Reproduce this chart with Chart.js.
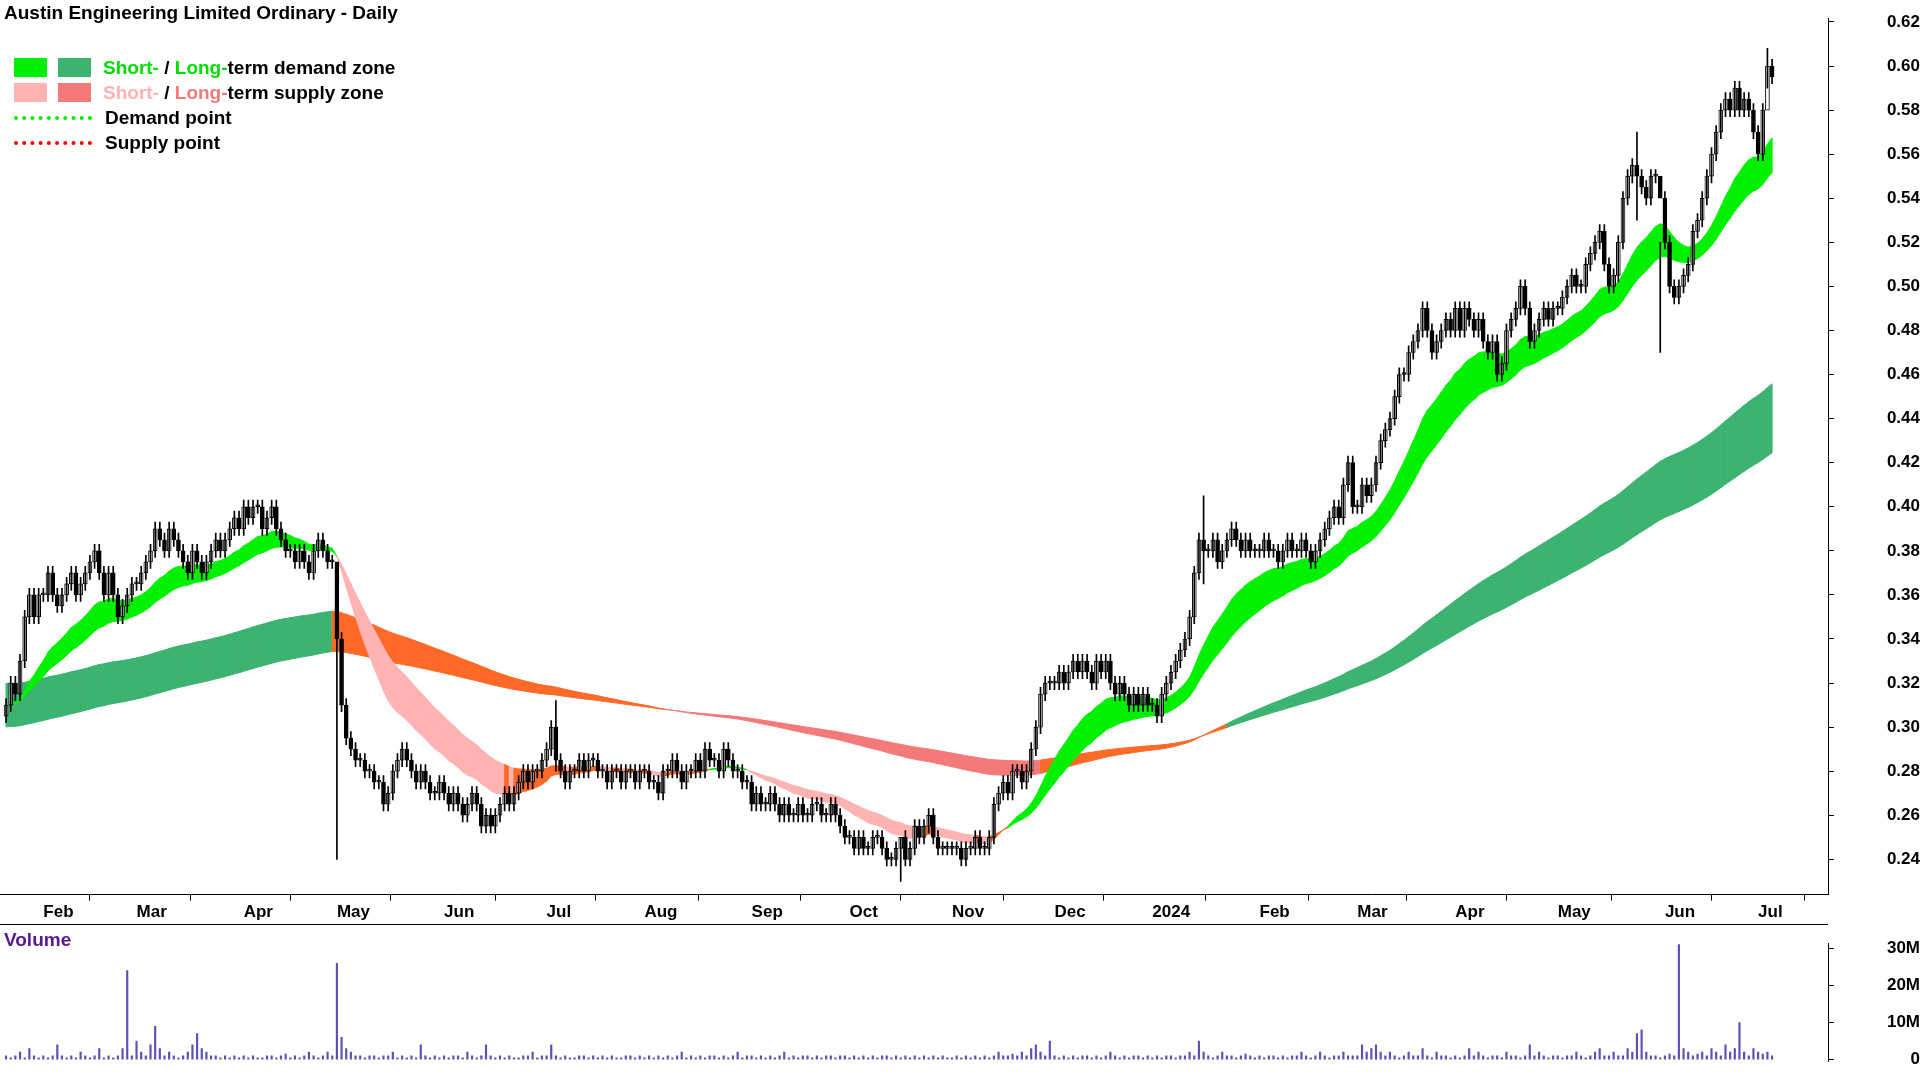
<!DOCTYPE html>
<html>
<head>
<meta charset="utf-8">
<script src="https://cdn.jsdelivr.net/npm/chart.js@4.4.1/dist/chart.umd.min.js"></script>
<style>
  body { margin: 0; width: 1920px; height: 1080px; background: #fff; overflow: hidden; font-family: "Liberation Sans", Arial, sans-serif; }
  #priceWrap { position: absolute; left: 0; top: 0; width: 1920px; height: 925px; }
  #volWrap { position: absolute; left: 0; top: 925px; width: 1920px; height: 155px; }
  #sep { position: absolute; left: 0; top: 924px; width: 1828px; height: 1px; background: #000; }
  .title { position: absolute; left: 4px; top: 2px; font-weight: bold; font-size: 19px; }
  .legend { position: absolute; left: 14px; top: 55px; font-weight: bold; font-size: 19px; line-height: 25px; }
  .row { display: flex; align-items: center; height: 25px; }
  .sw { width: 33px; height: 19px; margin-right: 11px; }
  .dot { width: 78px; height: 0; border-top: 4px dotted; margin-right: 13px; }
  .vol { position: absolute; left: 4px; top: 929px; font-weight: bold; font-size: 19px; color: #5a1a8c; }
</style>
</head>
<body>
<div id="priceWrap"><canvas id="priceChart" width="1920" height="925"></canvas></div>
<div id="volWrap"><canvas id="volChart" width="1920" height="155"></canvas></div>
<div id="sep"></div>
<div class="title">Austin Engineering Limited Ordinary - Daily</div>
<div class="legend">
  <div class="row"><div class="sw" style="background:#00ee00"></div><div class="sw" style="background:#3cb371;margin-right:12px"></div><span style="color:#00dd00">Short-</span>&nbsp;/&nbsp;<span style="color:#00dd00">Long-</span>term demand zone</div>
  <div class="row"><div class="sw" style="background:#ffb3b3"></div><div class="sw" style="background:#f47a7a;margin-right:12px"></div><span style="color:#ffb3b3">Short-</span>&nbsp;/&nbsp;<span style="color:#f47a7a">Long-</span>term supply zone</div>
  <div class="row"><div class="dot" style="border-color:#00ee00"></div>Demand point</div>
  <div class="row"><div class="dot" style="border-color:#ff0000"></div>Supply point</div>
</div>
<div class="vol">Volume</div>
<script>
// daily closes in cents, one line per month (Jan 2023 .. Jul 2024)
const closes = [
  31,32,31.5,33,35,36,35,36,
  36,37,36,35.5,36,36.5,37,36,36.5,37,37.5,38,37,36,37,36,35,35.5,36,36.5,
  36.5,37,37.5,38,39,38.5,38,39,38.5,38,37.5,37,38,37.5,37,37.5,38,38.5,38,38.5,39,39.5,39,
  40,39.5,40,40,39,39.5,40,39,38.5,38,38,37.5,38,37.5,37,38,38.5,38,37.5,37.5,
  34,31,29.5,29,28.5,28.5,28,28,27.5,27.5,26.5,27,28,28.5,29,28.5,28,27.5,28,27.5,27,27,27.5,
  27,26.5,27,26.5,26,26.5,27,26.5,25.5,26,25.5,26,26.5,27,26.5,27,27.5,28,27.5,28,28,28.5,
  29,30,28.5,28,27.5,28,28,28.5,28,28.5,28.5,28,28,27.5,28,28,27.5,28,28,27.5,28,
  28,27.5,27.5,27,28,28,28.5,28,27.5,28,28,28.5,28,29,28.5,28.5,28,29,28.5,28,28,27.5,27.5,
  26.5,27,26.5,26.5,27,26.5,26,26.5,26,26,26.5,26,26,26.5,26.5,26,26,26.5,26,25.5,25,
  25,24.5,25,24.5,24.5,25,25,24.5,24,24,24.5,25,24,24.5,25.5,25,25.5,26,25,24.5,24.5,24.5,
  24.5,24.5,24,24.5,24.5,25,24.5,24.5,25,26.5,27,27.5,27,28,28,27.5,28,29,30,31.5,32,32,
  32,32.5,32,32.5,33,32.5,33,32.5,32,33,32.5,33,32,31.5,32,31.5,31,31.5,31,31.5,31,
  31,30.5,31.5,32,32.5,33,33.5,34,35,37,38.5,38,38,38.5,37.5,38,38.5,39,38.5,38,38.5,38,38,
  38,38.5,38,38,37.5,38,38.5,38,38,38.5,38,37.5,38,38.5,39,39.5,40,39.5,41,42,40,
  40,41,40.5,41,42,43,43.5,44,45,46,46,47,47.5,48,49,48,47,47.5,48,48.5,48,
  49,48,49,48.5,48,48.5,47.5,47,47.5,46,46.5,48,48.5,49,50,49,47.5,48,48.5,49,48.5,49,
  49,49.5,50,50.5,50,50,51,51.5,52,52.5,51,50,50.5,52,54,55,55.5,55,54.5,54,55,55,54,
  52,50,49.5,50,50.5,51,52.5,53,54,55,56,57,58,58.5,58,59,58,58.5,58,57,
  56,58,60,59.5
];
// daily volume in millions
const volumes = [
  1,0.5,1,2,0.5,3,1,0.5,
  1,0.5,1,4,1,0.5,1,0.5,2,1,0.5,1,3,0.5,1,0.5,1,3,24,1,
  5,2,1,4,9,3,1,2,1,0.5,1,2,4,7,3,2,1,1,0.5,1,0.5,1,0.5,
  1,0.5,1,0.5,0.5,1,1,0.5,1,1.5,0.5,1,0.5,1,2,1,0.5,1,2,1,
  26,6,3,2,1,1,0.5,1,1,0.5,1,1,2,0.5,1,0.5,1,0.5,4,1,0.5,1,0.5,
  1,0.5,1,1,0.5,2,1,0.5,1,4,1,0.5,1,0.5,1,0.5,0.5,1,1,2,0.5,1,
  1,4,1,0.5,1,0.5,0.5,1,1,0.5,1,0.5,1,0.5,1,0.5,0.5,1,1,0.5,1,
  0.5,1,0.5,1,0.5,1,0.5,1,2,0.5,1,0.5,1,0.5,1,1,0.5,1,0.5,1,2,0.5,1,
  1,0.5,1,0.5,1,0.5,1,2,0.5,1,0.5,1,1,0.5,1,0.5,1,1,0.5,1,1,
  0.5,1,0.5,1,0.5,1,0.5,1,1,0.5,1,0.5,1,0.5,1,0.5,1,0.5,1,0.5,1,0.5,
  0.5,1,0.5,1,0.5,1,0.5,1,0.5,1,2,1,1,1.5,1,2,1,3,4,2,1,5,
  1,0.5,1,0.5,1,0.5,1,1,0.5,1,0.5,1,2,1,0.5,1,0.5,1,1,0.5,1,
  0.5,1,0.5,1,1,0.5,1,1,2,1,5,2,1,0.5,1,2,1,1,0.5,1,1.5,1,0.5,
  1,0.5,1,1,0.5,1,0.5,1,1,2,1,0.5,1,2,1,0.5,1,1,2,1,1,
  1,4,2,3,4,2,1,2,1,0.5,1,2,1,1,3,1,0.5,2,1,1,0.5,
  1,0.5,1,3,1,2,1,0.5,1,1,0.5,2,1,1,0.5,1,4,1,2,1,0.5,1,
  1,0.5,1,1,2,1,0.5,1,2,3,1,1,2,1,1,3,2,7,8,2,1,1,0.5,
  1,1.5,1,31,3,2,1,1.5,2,1,3,2,1,4,2,3,10,2,1,3,
  2,1.5,2,1
];
// a few long wicks seen on the chart: index -> [low, high] in cents
const wickSpikes = { 71: [24, 35], 118: [28, 31.2], 192: [23, 25], 257: [36.5, 40.5], 350: [53, 57], 355: [47, 52], 378: [59, 60.8] };
const firstDay = '2023-01-20';
const monthNames = ['Jan','Feb','Mar','Apr','May','Jun','Jul','Aug','Sep','Oct','Nov','Dec'];
const priceTicks = [0.24,0.26,0.28,0.30,0.32,0.34,0.36,0.38,0.40,0.42,0.44,0.46,0.48,0.50,0.52,0.54,0.56,0.58,0.60,0.62];
const volTicks = [0, 10, 20, 30];
// index ranges where the long-term zone is a supply zone, and where it is drawn orange
const longSupplySpans = [[70, 261]];
const orangeSpans = [[70, 140], [222, 261]];

// trading days
const dates = [];
let d = new Date(firstDay + 'T12:00:00');
while (dates.length < closes.length) {
  if (d.getDay() !== 0 && d.getDay() !== 6) dates.push(new Date(d));
  d.setDate(d.getDate() + 1);
}
const monthStarts = [];
dates.forEach((dt, i) => {
  if (i > 0 && dt.getMonth() !== dates[i - 1].getMonth()) monthStarts.push(i);
});

const c = closes.map(v => v / 100);
const opens = c.map((v, i) => i === 0 ? 0.305 : c[i - 1]);
const candles = c.map((v, i) => {
  const top = Math.max(v, opens[i]), bot = Math.min(v, opens[i]);
  let lo = bot - 0.003, hi = top + 0.003;
  if (wickSpikes[i]) { lo = wickSpikes[i][0] / 100; hi = wickSpikes[i][1] / 100; }
  return { o: opens[i], c: v, lo, hi };
});

function ema(n, seed) {
  const k = 2 / (n + 1), out = [];
  let e = seed;
  c.forEach(v => { e = e + k * (v - e); out.push(e); });
  return out;
}
const sFast = ema(20, 0.31), sSlow = ema(35, 0.31);
const lFast = ema(160, 0.32), lSlow = ema(230, 0.30);
const inSpan = (spans, i) => spans.some(s => i >= s[0] && i <= s[1]);

const bandPlugin = {
  id: 'bands',
  beforeDatasetsDraw(chart) {
    const { ctx, scales: { x, y }, chartArea } = chart;
    ctx.save();
    ctx.beginPath();
    ctx.rect(chartArea.left, chartArea.top, chartArea.width, chartArea.height);
    ctx.clip();
    function band(a, b, colorOf) {
      for (let i = 0; i < a.length - 1; i++) {
        const col = colorOf(i);
        ctx.fillStyle = col; ctx.strokeStyle = col; ctx.lineWidth = 1;
        ctx.beginPath();
        ctx.moveTo(x.getPixelForValue(i), y.getPixelForValue(a[i]));
        ctx.lineTo(x.getPixelForValue(i + 1), y.getPixelForValue(a[i + 1]));
        ctx.lineTo(x.getPixelForValue(i + 1), y.getPixelForValue(b[i + 1]));
        ctx.lineTo(x.getPixelForValue(i), y.getPixelForValue(b[i]));
        ctx.closePath(); ctx.fill(); ctx.stroke();
      }
    }
    band(lFast, lSlow, i => {
      if (!inSpan(longSupplySpans, i)) return '#3cb371';
      return inSpan(orangeSpans, i) ? '#ff6a28' : '#f47a7a';
    });
    band(sFast, sSlow, i => {
      if (sFast[i] >= sSlow[i]) return '#00f000';
      return c[i] > sFast[i] ? '#ff6a28' : '#ffb3b3';
    });
    ctx.restore();
  }
};

const xMin = -1.3, xMax = 391;
const axisFont = { family: '"Liberation Sans", Arial', size: 17, weight: 'bold' };

new Chart(document.getElementById('priceChart').getContext('2d'), {
  type: 'bar',
  data: {
    datasets: [
      { data: candles.map((k, i) => ({ x: i, y: [k.lo, k.hi] })), backgroundColor: '#000', barThickness: 1, grouped: false },
      { data: candles.map((k, i) => ({ x: i, y: [k.o, k.c] })),
        backgroundColor: candles.map(k => k.c >= k.o ? '#fff' : '#000'),
        borderColor: '#000', borderWidth: 1, borderSkipped: false, barThickness: 4, minBarLength: 2, grouped: false }
    ]
  },
  plugins: [bandPlugin],
  options: {
    animation: false, responsive: false, maintainAspectRatio: false,
    layout: { padding: 0 },
    plugins: { legend: { display: false }, tooltip: { enabled: false } },
    scales: {
      x: {
        type: 'linear', min: xMin, max: xMax, offset: false,
        afterBuildTicks: s => { s.ticks = monthStarts.map(v => ({ value: v })); },
        ticks: {
          autoSkip: false, maxRotation: 0, align: 'start', padding: 2, color: '#000', font: axisFont,
          callback: v => { const dt = dates[v]; return dt.getMonth() === 0 ? String(dt.getFullYear()) : monthNames[dt.getMonth()]; }
        },
        grid: { drawOnChartArea: false, tickLength: 6, color: '#000' },
        border: { color: '#000' }
      },
      y: {
        position: 'right', min: 0.224, max: 0.6217,
        afterBuildTicks: s => { s.ticks = priceTicks.map(v => ({ value: v })); },
        afterFit: s => { s.width = 92; },
        ticks: { color: '#000', font: axisFont, padding: 8, crossAlign: 'far', callback: v => v.toFixed(2) },
        grid: { drawOnChartArea: false, tickLength: 6, color: '#000' },
        border: { color: '#000' }
      }
    }
  }
});

new Chart(document.getElementById('volChart').getContext('2d'), {
  type: 'bar',
  data: { datasets: [{ data: volumes.map((v, i) => ({ x: i, y: v })), backgroundColor: '#5b4fb8', barThickness: 1.5 }] },
  options: {
    animation: false, responsive: false,
    layout: { padding: { top: 3, bottom: 2 } },
    plugins: { legend: { display: false }, tooltip: { enabled: false } },
    scales: {
      x: { type: 'linear', min: xMin, max: xMax, offset: false, display: false },
      y: {
        position: 'right', min: -0.6, max: 31.4,
        afterBuildTicks: s => { s.ticks = volTicks.map(v => ({ value: v })); },
        afterFit: s => { s.width = 92; },
        ticks: { color: '#000', font: axisFont, padding: 8, crossAlign: 'far', callback: v => v === 0 ? '0' : v + 'M' },
        grid: { drawOnChartArea: false, tickLength: 6, color: '#000' },
        border: { color: '#000' }
      }
    }
  }
});
</script>
</body>
</html>
